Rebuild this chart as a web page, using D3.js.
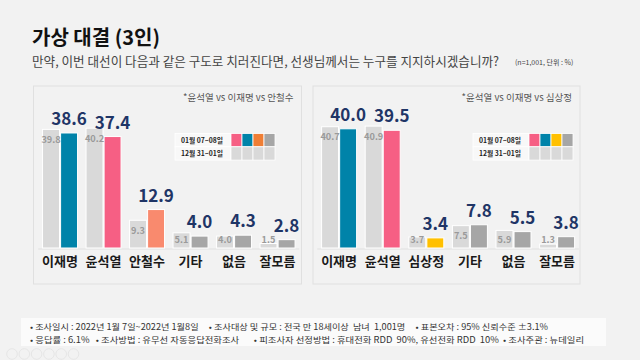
<!DOCTYPE html>
<html><head><meta charset="utf-8">
<script src="https://cdn.jsdelivr.net/npm/d3@7/dist/d3.min.js"></script>
<style>
html,body{margin:0;padding:0;background:#f2f2f2;}
svg{display:block;font-family:"Noto Sans CJK KR","Noto Sans",sans-serif;}
</style></head>
<body>
<svg id="c" width="640" height="360"></svg>
<script>
// ---- data ----
const leftCats = ["이재명","윤석열","안철수","기타","없음","잘모름"];
const leftPrev = [39.8,40.2,9.3,5.1,4.0,1.5];
const leftCur  = [38.6,37.4,12.9,4.0,4.3,2.8];
const rightCats = ["이재명","윤석열","심상정","기타","없음","잘모름"];
const rightPrev = [40.7,40.9,3.7,7.5,5.9,1.3];
const rightCur  = [40.0,39.5,3.4,7.8,5.5,3.8];
const legendRows = ["01월 07~08일","12월 31~01일"];
const title = "가상 대결 (3인)";
const subtitle = "만약, 이번 대선이 다음과 같은 구도로 치러진다면, 선생님께서는 누구를 지지하시겠습니까?";
const unitNote = "(n=1,001, 단위 : %)";
const leftNote = "*윤석열 vs 이재명 vs 안철수";
const rightNote = "*윤석열 vs 이재명 vs 심상정";
const footer1 = "• 조사일시 : 2022년 1월 7일~2022년 1월8일     • 조사대상 및 규모 : 전국 만 18세이상  남녀  1,001명     • 표본오차 : 95% 신뢰수준 ±3.1%";
const footer2 = "• 응답률 : 6.1%   • 조사방법 : 유무선 자동응답전화조사       • 피조사자 선정방법 : 휴대전화 RDD  90%, 유선전화 RDD  10%  • 조사주관 : 뉴데일리";

const svg = d3.select("#c");
const C = {teal:"#0083a9", pink:"#f65f84", salmon:"#f98a6e", orange:"#ef7e35", yellow:"#ffc000", dgray:"#a6a6a6", lgray:"#d9d9d9", navy:"#1f3566"};

svg.append("rect").attr("width",640).attr("height",360).attr("fill","#f2f2f2");

svg.append("text").attr("x",32).attr("y",45).attr("font-size",20).attr("font-weight","bold").attr("fill","#111").text(title);
svg.append("text").attr("x",32).attr("y",66).attr("font-size",12.6).attr("fill","#444").text(subtitle);
svg.append("text").attr("x",515).attr("y",65).attr("font-size",7).attr("fill","#444").text(unitNote);

const y = d3.scaleLinear().domain([0,50]).range([248, 248-149]);

function panel(px, pw, cats, prev, cur, curColors, legendColors, note, xr, legX){
  svg.append("rect").attr("x",px).attr("y",86).attr("width",pw).attr("height",198)
    .attr("fill","#f2f2f2").attr("stroke","#e0e0e0").attr("stroke-width",1);
  svg.append("text").attr("x",px+pw-8).attr("y",101).attr("text-anchor","end")
    .attr("font-size",9.5).attr("fill","#555").text(note);
  const x0 = d3.scaleBand().domain(cats).range(xr);
  const x1 = d3.scaleBand().domain(["prev","cur"]).range([-17.5,17.5]).paddingInner(0.06);
  const g = svg.append("g");
  g.append("line").attr("x1",xr[0]).attr("x2",xr[1]).attr("y1",y(0)+1).attr("y2",y(0)+1)
    .attr("stroke","#e0e0e0").attr("stroke-width",1);
  cats.forEach((c,i)=>{
    const cx = x0(c)+x0.bandwidth()/2;
    const bw = x1.bandwidth();
    g.append("rect").attr("x",cx+x1("prev")).attr("y",y(prev[i])).attr("width",bw)
      .attr("height",y(0)-y(prev[i])).attr("fill",C.lgray).attr("stroke","#fff").attr("stroke-width",1);
    g.append("rect").attr("x",cx+x1("cur")).attr("y",y(cur[i])).attr("width",bw)
      .attr("height",y(0)-y(cur[i])).attr("fill",curColors[i]).attr("stroke","#fff").attr("stroke-width",1);
    const py = Math.min(y(prev[i])+13.5, y(0)-5);
    g.append("text").attr("x",cx+x1("prev")+bw/2).attr("y",py).attr("text-anchor","middle")
      .attr("font-size",9.2).attr("font-weight","bold").attr("fill","#9a9a9a").text(prev[i].toFixed(1));
    g.append("text").attr("x",cx+x1("cur")+bw/2).attr("y",y(cur[i])-8).attr("text-anchor","middle")
      .attr("font-size",17).attr("font-weight","bold").attr("fill",C.navy).text(cur[i].toFixed(1));
    g.append("text").attr("x",cx).attr("y",266).attr("text-anchor","middle")
      .attr("font-size",13).attr("font-weight","bold").attr("fill","#1a1a1a").text(c);
  });
  const lg = svg.append("g").attr("transform",`translate(${legX},133.5)`);
  legendRows.forEach((r,ri)=>{
    lg.append("rect").attr("x",0).attr("y",ri*13.3).attr("width",56).attr("height",13.3)
      .attr("fill","#f8f8f8").attr("stroke","#fff").attr("stroke-width",0.8);
    lg.append("text").attr("x",6).attr("y",ri*13.3+9.3).attr("font-size",6.8).attr("font-weight","bold")
      .attr("fill","#222").text(r);
    legendColors.forEach((col,ci)=>{
      lg.append("rect").attr("x",56+ci*11).attr("y",ri*13.3).attr("width",11).attr("height",13.3)
        .attr("fill", ri===0 ? col : C.lgray).attr("stroke","#fff").attr("stroke-width",0.8);
    });
  });
}

panel(33.5, 268, leftCats, leftPrev, leftCur,
  [C.teal,C.pink,C.salmon,C.dgray,C.dgray,C.dgray],
  [C.pink,C.teal,C.orange,C.dgray], leftNote, [38.3,299.3], 175);
panel(313, 267, rightCats, rightPrev, rightCur,
  [C.teal,C.pink,C.yellow,C.dgray,C.dgray,C.dgray],
  [C.pink,C.teal,C.yellow,C.dgray], rightNote, [317.3,578.9], 473);

svg.append("rect").attr("x",21).attr("y",318).attr("width",585).attr("height",28).attr("fill","#fbfbfb");
svg.append("text").attr("x",30).attr("y",330).attr("font-size",8.5).attr("fill","#333")
  .attr("xml:space","preserve").attr("textLength",518).attr("lengthAdjust","spacingAndGlyphs").text(footer1);
svg.append("text").attr("x",30).attr("y",343).attr("font-size",8.5).attr("fill","#333")
  .attr("xml:space","preserve").attr("textLength",554).attr("lengthAdjust","spacingAndGlyphs").text(footer2);

const icons = [0,1,2,3,4,5];
icons.forEach(i=>{
  svg.append("circle").attr("cx",12+i*12.3).attr("cy",354).attr("r",5.3)
    .attr("fill","none").attr("stroke","#e2e2e2").attr("stroke-width",0.8);
});
</script>
</body></html>
